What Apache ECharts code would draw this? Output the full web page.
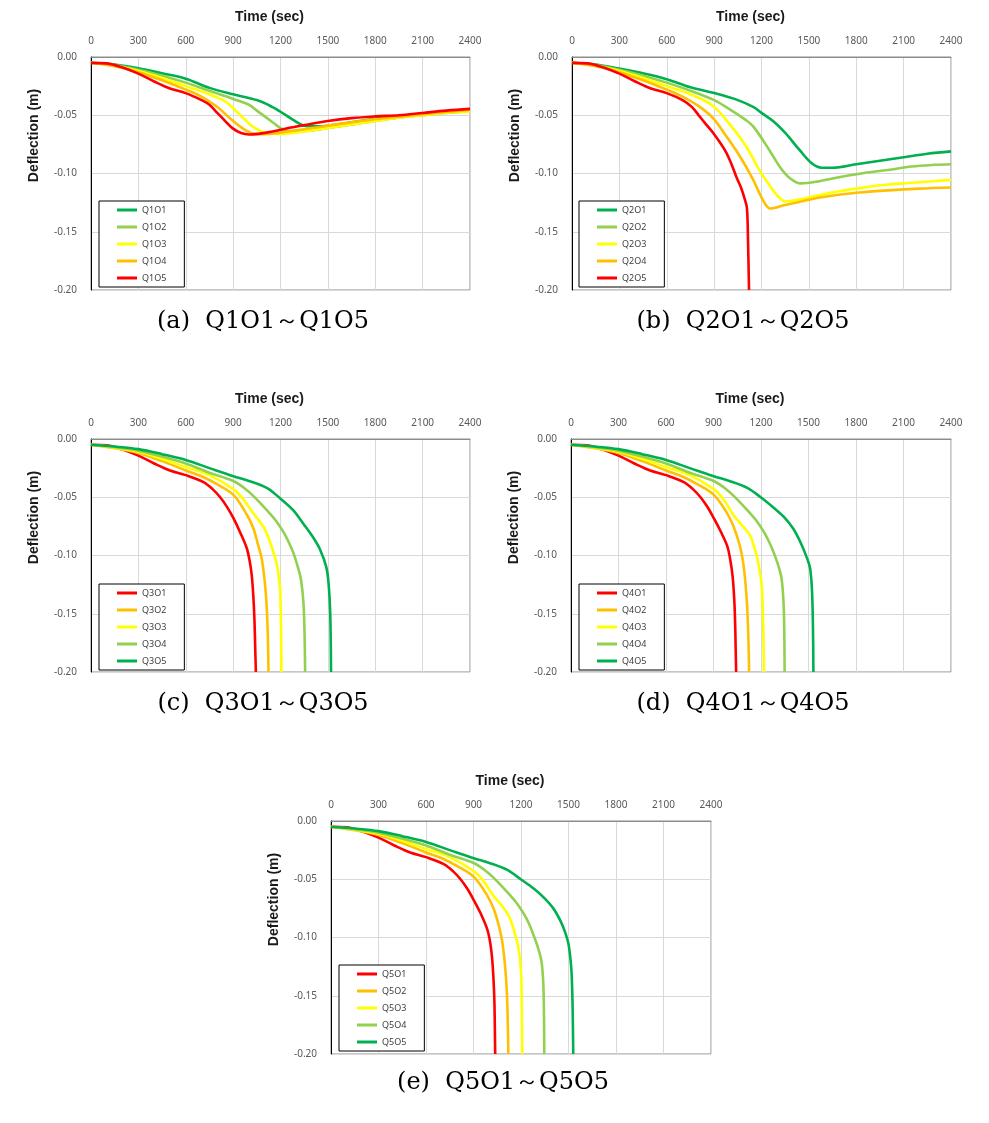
<!DOCTYPE html>
<html><head><meta charset="utf-8">
<script src="https://cdn.jsdelivr.net/npm/echarts@6/dist/echarts.min.js"></script>
<style>html,body{margin:0;padding:0;background:#fff}#c{width:989px;height:1123px}</style>
</head><body><div id="c"></div>
<script>
// ---- data (time in sec, deflection in m) ----
const xTicks = [0,300,600,900,1200,1500,1800,2100,2400];
const yTicks = [0,-0.05,-0.10,-0.15,-0.20];

// (a) Q1
const q1o1 = [[0,-0.005],[150,-0.0065],[300,-0.0097],[450,-0.014],[600,-0.0186],[750,-0.0265],[900,-0.032],[1050,-0.037],[1150,-0.043],[1200,-0.047],[1280,-0.054],[1340,-0.0585],[1400,-0.0595],[1500,-0.059],[1650,-0.056],[1800,-0.053],[1950,-0.051],[2100,-0.049],[2250,-0.0475],[2400,-0.046]];
const q1o2 = [[0,-0.005],[150,-0.007],[300,-0.011],[450,-0.016],[600,-0.022],[750,-0.029],[900,-0.036],[1000,-0.041],[1050,-0.046],[1150,-0.056],[1200,-0.061],[1260,-0.0635],[1350,-0.0635],[1500,-0.061],[1650,-0.058],[1800,-0.055],[1950,-0.052],[2100,-0.05],[2250,-0.048],[2400,-0.0465]];
const q1o3 = [[0,-0.005],[150,-0.0075],[300,-0.012],[450,-0.018],[600,-0.025],[750,-0.032],[850,-0.038],[900,-0.044],[1000,-0.057],[1050,-0.062],[1100,-0.065],[1200,-0.066],[1350,-0.064],[1500,-0.061],[1650,-0.058],[1800,-0.055],[1950,-0.052],[2100,-0.05],[2250,-0.048],[2400,-0.047]];
const q1o4 = [[0,-0.005],[150,-0.008],[300,-0.013],[450,-0.020],[600,-0.028],[700,-0.034],[800,-0.043],[900,-0.055],[980,-0.063],[1040,-0.066],[1100,-0.0662],[1250,-0.064],[1400,-0.061],[1600,-0.057],[1800,-0.0535],[2100,-0.049],[2400,-0.0455]];
const q1o5 = [[0,-0.005],[100,-0.0055],[200,-0.009],[300,-0.0143],[400,-0.021],[500,-0.027],[600,-0.031],[700,-0.037],[750,-0.041],[800,-0.048],[850,-0.055],[900,-0.0615],[950,-0.0653],[1000,-0.0665],[1060,-0.066],[1150,-0.064],[1250,-0.061],[1350,-0.0585],[1500,-0.055],[1650,-0.0525],[1800,-0.051],[1950,-0.05],[2100,-0.048],[2250,-0.046],[2400,-0.0445]];

// (b) Q2
const q2o1 = [[0,-0.005],[150,-0.0065],[300,-0.010],[450,-0.014],[600,-0.019],[750,-0.026],[900,-0.031],[1050,-0.037],[1150,-0.043],[1200,-0.048],[1273,-0.055],[1349,-0.065],[1442,-0.080],[1516,-0.091],[1580,-0.095],[1650,-0.095],[1800,-0.092],[1950,-0.089],[2100,-0.086],[2250,-0.083],[2400,-0.081]];
const q2o2 = [[0,-0.005],[150,-0.007],[300,-0.011],[450,-0.016],[600,-0.022],[750,-0.029],[900,-0.037],[1000,-0.045],[1100,-0.054],[1150,-0.060],[1250,-0.080],[1320,-0.095],[1380,-0.104],[1450,-0.1085],[1550,-0.107],[1700,-0.103],[1850,-0.0995],[2000,-0.097],[2150,-0.094],[2300,-0.0925],[2400,-0.092]];
const q2o3 = [[0,-0.005],[150,-0.0075],[300,-0.012],[450,-0.018],[600,-0.025],[750,-0.032],[893,-0.042],[1000,-0.058],[1104,-0.077],[1190,-0.098],[1240,-0.108],[1294,-0.118],[1353,-0.124],[1450,-0.122],[1550,-0.119],[1700,-0.115],[1850,-0.112],[2000,-0.1095],[2150,-0.108],[2300,-0.1065],[2400,-0.1055]];
const q2o4 = [[0,-0.005],[150,-0.008],[300,-0.013],[450,-0.020],[600,-0.028],[700,-0.034],[800,-0.042],[893,-0.0524],[977,-0.068],[1062,-0.085],[1146,-0.105],[1210,-0.123],[1256,-0.130],[1350,-0.127],[1450,-0.124],[1550,-0.121],[1700,-0.118],[1850,-0.116],[2000,-0.1145],[2200,-0.113],[2400,-0.112]];
const q2o5 = [[0,-0.005],[100,-0.0055],[200,-0.009],[300,-0.0143],[400,-0.021],[500,-0.027],[600,-0.031],[700,-0.037],[760,-0.043],[808,-0.051],[850,-0.058],[893,-0.065],[935,-0.073],[977,-0.082],[1010,-0.092],[1041,-0.103],[1070,-0.112],[1094,-0.122],[1108,-0.130],[1115,-0.16],[1121,-0.2]];

// (c) Q3
const q3o1 = [[0,-0.005],[100,-0.0055],[200,-0.009],[300,-0.0143],[400,-0.021],[500,-0.027],[600,-0.031],[712,-0.037],[770,-0.043],[818,-0.050],[860,-0.058],[902,-0.068],[944,-0.080],[987,-0.094],[1005,-0.105],[1018,-0.117],[1028,-0.135],[1035,-0.155],[1040,-0.18],[1044,-0.2]];
const q3o2 = [[0,-0.005],[150,-0.008],[300,-0.012],[450,-0.019],[600,-0.027],[700,-0.032],[800,-0.039],[902,-0.048],[987,-0.065],[1029,-0.077],[1060,-0.092],[1080,-0.102],[1100,-0.122],[1113,-0.145],[1120,-0.17],[1124,-0.2]];
const q3o3 = [[0,-0.005],[150,-0.0075],[300,-0.011],[450,-0.017],[600,-0.024],[750,-0.031],[902,-0.043],[960,-0.051],[1029,-0.064],[1080,-0.073],[1113,-0.081],[1150,-0.095],[1177,-0.108],[1190,-0.120],[1198,-0.131],[1203,-0.160],[1206,-0.2]];
const q3o4 = [[0,-0.005],[150,-0.007],[300,-0.010],[450,-0.015],[600,-0.021],[750,-0.029],[900,-0.036],[970,-0.042],[1029,-0.049],[1113,-0.061],[1170,-0.070],[1219,-0.080],[1250,-0.088],[1282,-0.098],[1310,-0.110],[1330,-0.121],[1345,-0.140],[1352,-0.165],[1356,-0.2]];
const q3o5 = [[0,-0.005],[150,-0.0065],[300,-0.0087],[450,-0.013],[600,-0.018],[750,-0.025],[902,-0.032],[1000,-0.036],[1113,-0.042],[1198,-0.051],[1280,-0.061],[1346,-0.073],[1409,-0.085],[1451,-0.095],[1490,-0.110],[1505,-0.125],[1515,-0.15],[1520,-0.2]];

// (d) Q4
const q4o1 = [[0,-0.005],[100,-0.0055],[200,-0.009],[300,-0.0143],[400,-0.021],[500,-0.027],[600,-0.031],[712,-0.037],[770,-0.043],[818,-0.050],[860,-0.058],[902,-0.068],[944,-0.079],[987,-0.092],[1005,-0.103],[1020,-0.117],[1030,-0.135],[1036,-0.155],[1040,-0.18],[1043,-0.2]];
const q4o2 = [[0,-0.005],[150,-0.008],[300,-0.012],[450,-0.019],[600,-0.027],[700,-0.032],[800,-0.039],[902,-0.048],[987,-0.064],[1029,-0.076],[1065,-0.091],[1085,-0.104],[1102,-0.124],[1113,-0.145],[1120,-0.17],[1125,-0.2]];
const q4o3 = [[0,-0.005],[150,-0.0075],[300,-0.011],[450,-0.017],[600,-0.024],[750,-0.031],[902,-0.043],[960,-0.051],[1025,-0.065],[1080,-0.074],[1130,-0.0825],[1155,-0.092],[1172,-0.100],[1190,-0.112],[1204,-0.125],[1212,-0.15],[1216,-0.175],[1219,-0.2]];
const q4o4 = [[0,-0.005],[150,-0.007],[300,-0.010],[450,-0.015],[600,-0.021],[750,-0.029],[900,-0.036],[970,-0.042],[1029,-0.049],[1113,-0.061],[1170,-0.070],[1219,-0.080],[1250,-0.088],[1282,-0.098],[1310,-0.109],[1330,-0.120],[1342,-0.140],[1347,-0.165],[1349,-0.2]];
const q4o5 = [[0,-0.005],[150,-0.0065],[300,-0.0087],[450,-0.013],[600,-0.018],[750,-0.025],[902,-0.032],[1000,-0.036],[1113,-0.042],[1198,-0.050],[1280,-0.059],[1346,-0.067],[1404,-0.077],[1447,-0.088],[1490,-0.102],[1510,-0.111],[1522,-0.13],[1528,-0.16],[1531,-0.2]];

// (e) Q5
const q5o1 = [[0,-0.005],[100,-0.0055],[200,-0.009],[300,-0.0143],[400,-0.021],[500,-0.027],[600,-0.031],[712,-0.037],[770,-0.043],[818,-0.050],[860,-0.058],[902,-0.068],[944,-0.079],[987,-0.093],[1005,-0.104],[1017,-0.117],[1026,-0.135],[1032,-0.155],[1035,-0.18],[1037,-0.2]];
const q5o2 = [[0,-0.005],[150,-0.008],[300,-0.012],[450,-0.019],[600,-0.027],[700,-0.032],[800,-0.039],[902,-0.048],[987,-0.064],[1029,-0.076],[1062,-0.091],[1082,-0.104],[1099,-0.124],[1110,-0.145],[1116,-0.17],[1120,-0.2]];
const q5o3 = [[0,-0.005],[150,-0.0075],[300,-0.011],[450,-0.017],[600,-0.024],[750,-0.031],[902,-0.043],[960,-0.051],[1025,-0.064],[1080,-0.073],[1125,-0.082],[1160,-0.096],[1182,-0.108],[1196,-0.122],[1203,-0.14],[1206,-0.17],[1208,-0.2]];
const q5o4 = [[0,-0.005],[150,-0.007],[300,-0.010],[450,-0.015],[600,-0.021],[750,-0.029],[900,-0.036],[970,-0.042],[1029,-0.049],[1113,-0.061],[1170,-0.070],[1219,-0.080],[1250,-0.088],[1282,-0.099],[1310,-0.110],[1330,-0.121],[1341,-0.140],[1345,-0.165],[1347,-0.2]];
const q5o5 = [[0,-0.005],[150,-0.0065],[300,-0.0087],[450,-0.013],[600,-0.018],[750,-0.025],[902,-0.032],[1000,-0.036],[1113,-0.042],[1198,-0.050],[1280,-0.058],[1346,-0.066],[1404,-0.075],[1450,-0.086],[1480,-0.096],[1499,-0.105],[1512,-0.118],[1520,-0.132],[1526,-0.16],[1530,-0.2]];

const names1 = ['Q1O1','Q1O2','Q1O3','Q1O4','Q1O5'];
const names2 = ['Q2O1','Q2O2','Q2O3','Q2O4','Q2O5'];
const names3 = ['Q3O1','Q3O2','Q3O3','Q3O4','Q3O5'];
const names4 = ['Q4O1','Q4O2','Q4O3','Q4O4','Q4O5'];
const names5 = ['Q5O1','Q5O2','Q5O3','Q5O4','Q5O5'];
const captions = ['(a)  Q1O1～Q1O5','(b)  Q2O1～Q2O5','(c)  Q3O1～Q3O5','(d)  Q4O1～Q4O5','(e)  Q5O1～Q5O5'];

const C_DG = '#00b050', C_LG = '#92d050', C_Y = '#ffff00', C_O = '#ffc000', C_R = '#ff0000';
const colorsUp = [C_DG, C_LG, C_Y, C_O, C_R];
const colorsDown = [C_R, C_O, C_Y, C_LG, C_DG];

const panels = [
  {names: names1, data: [q1o1,q1o2,q1o3,q1o4,q1o5], colors: colorsUp,   grid: {left:91, top:57, width:379, height:233}, legend:{left:99, top:201}, cap:{x:263, y:322}},
  {names: names2, data: [q2o1,q2o2,q2o3,q2o4,q2o5], colors: colorsUp,   grid: {left:572, top:57, width:379, height:233}, legend:{left:579, top:201}, cap:{x:743, y:322}},
  {names: names3, data: [q3o1,q3o2,q3o3,q3o4,q3o5], colors: colorsDown, grid: {left:91, top:439, width:379, height:233}, legend:{left:99, top:584}, cap:{x:263, y:704}},
  {names: names4, data: [q4o1,q4o2,q4o3,q4o4,q4o5], colors: colorsDown, grid: {left:571, top:439, width:380, height:233}, legend:{left:579, top:584}, cap:{x:743, y:704}},
  {names: names5, data: [q5o1,q5o2,q5o3,q5o4,q5o5], colors: colorsDown, grid: {left:331, top:821, width:380, height:233}, legend:{left:339, top:965}, cap:{x:503, y:1083}}
];

const grids = [], xAxes = [], yAxes = [], series = [], legends = [], graphics = [];
panels.forEach((p, i) => {
  grids.push(Object.assign({show:true, borderColor:'#8c8c8c', borderWidth:1, backgroundColor:'#fff'}, p.grid));
  xAxes.push({
    type:'value', gridIndex:i, position:'top', min:xTicks[0], max:xTicks[xTicks.length-1], interval:300,
    name:'Time (sec)', nameLocation:'middle', nameGap:33,
    nameTextStyle:{fontFamily:'Liberation Sans', fontWeight:'bold', fontSize:14, color:'#1a1a1a', padding:[0,22,0,0]},
    axisLine:{show:true, lineStyle:{color:'#8c8c8c', width:1}},
    axisTick:{show:false},
    axisLabel:{margin:11, fontFamily:'Noto Sans', fontSize:10, color:'#595959', formatter: v => String(v)},
    splitLine:{show:true, lineStyle:{color:'#d9d9d9', width:1}}
  });
  yAxes.push({
    type:'value', gridIndex:i, min:yTicks[yTicks.length-1], max:yTicks[0], interval:0.05,
    name:'Deflection (m)', nameLocation:'middle', nameGap:50, nameRotate:90,
    nameTextStyle:{fontFamily:'Liberation Sans', fontWeight:'bold', fontSize:14, color:'#1a1a1a', padding:[0,0,0,76]},
    axisLine:{show:true, onZero:false, lineStyle:{color:'#000', width:1}},
    axisTick:{show:false},
    axisLabel:{margin:14, fontFamily:'Noto Sans', fontSize:10, color:'#595959', formatter: v => v.toFixed(2)},
    splitLine:{show:true, lineStyle:{color:'#d9d9d9', width:1}}
  });
  p.names.forEach((n, k) => {
    series.push({
      type:'line', name:n, xAxisIndex:i, yAxisIndex:i, data:p.data[k],
      showSymbol:false, symbol:'none', smooth:0.35,
      lineStyle:{color:p.colors[k], width:2.6}, itemStyle:{color:p.colors[k]},
      z: 3 + k
    });
  });
  legends.push({
    data:p.names, left:p.legend.left, top:p.legend.top, orient:'vertical',
    icon:'rect', itemWidth:20, itemHeight:3, itemGap:5,
    padding:[3,18,3,18], backgroundColor:'#fff', borderColor:'#000', borderWidth:1,
    selectedMode:false,
    textStyle:{fontFamily:'Noto Sans', fontSize:9, color:'#404040', lineHeight:12}
  });
  graphics.push({
    type:'text', x:p.cap.x, y:p.cap.y,
    style:{text:captions[i], font:'24px "DejaVu Serif", "Liberation Serif", serif', fill:'#000', textAlign:'center', textVerticalAlign:'middle'}
  });
});

const chart = echarts.init(document.getElementById('c'), null, {renderer:'canvas'});
chart.setOption({
  animation:false, backgroundColor:'#fff',
  grid:grids, xAxis:xAxes, yAxis:yAxes, series:series, legend:legends, graphic:graphics
});
</script></body></html>
